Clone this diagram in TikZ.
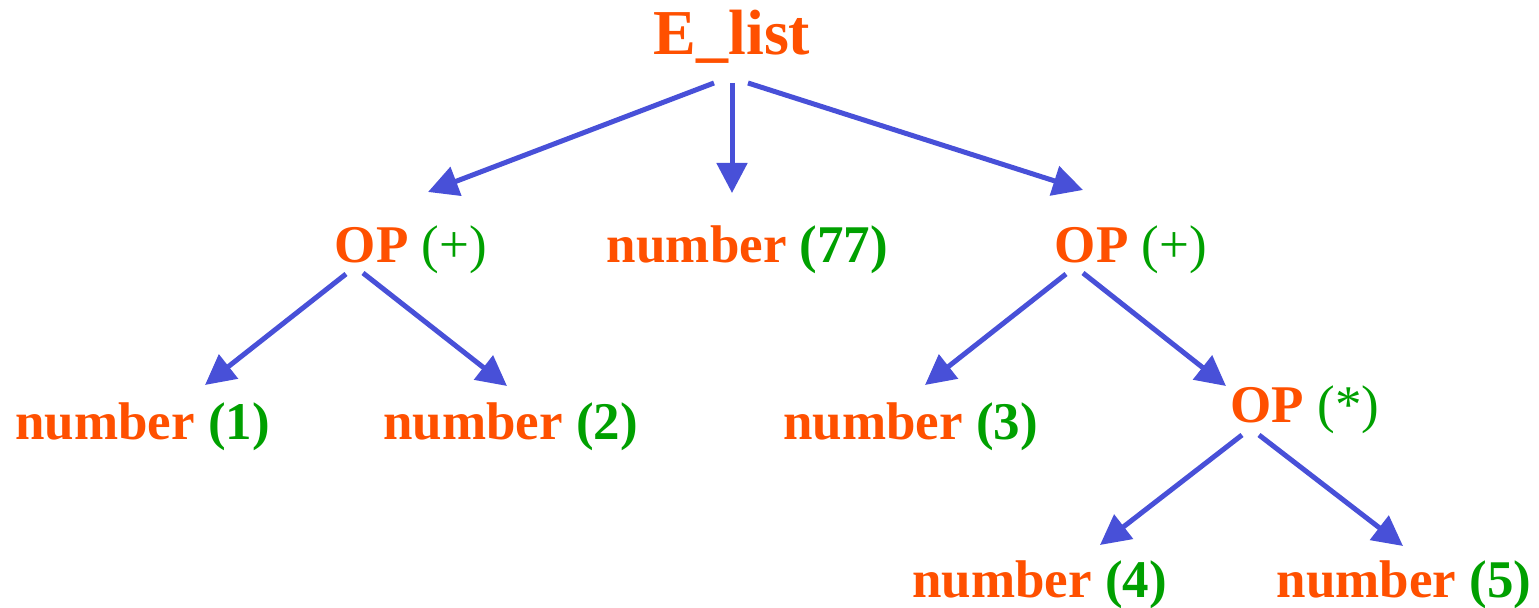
\documentclass[tikz,border=0pt]{standalone}
\usepackage{fontspec}
\setmainfont{Liberation Serif}
\usetikzlibrary{arrows.meta,calc}
\definecolor{termorange}{RGB}{255,80,0}
\definecolor{valgreen}{RGB}{0,160,0}
\definecolor{edgeblue}{RGB}{72,80,216}
\tikzset{
  lbl/.style={anchor=base,inner sep=0pt,font=\fontsize{26.5pt}{30pt}\selectfont\bfseries,text=termorange},
  rootlbl/.style={lbl,font=\fontsize{32pt}{36pt}\selectfont\bfseries},
  edge/.style={draw=edgeblue,line width=2.5pt,-{Triangle[length=15pt,width=15pt]}}
}
\newcommand{\opval}[1]{\textcolor{valgreen}{\mdseries(#1)}}
\newcommand{\numval}[1]{\textcolor{valgreen}{(#1)}}
\begin{document}
\begin{tikzpicture}[x=0.5pt,y=-0.5pt]
  \useasboundingbox (0,0) rectangle (1539,608);
  % tree labels, placed by baseline
  \node[rootlbl] (root) at (732,55) {E\_list};
  \node[lbl] (opl)  at (411,263)    {OP \opval{+}};
  \node[lbl] (n77)  at (747.5,263)  {number \numval{77}};
  \node[lbl] (opr)  at (1131,263)   {OP \opval{+}};
  \node[lbl] (n1)   at (142.5,440)  {number \numval{1}};
  \node[lbl] (n2)   at (510.5,440)  {number \numval{2}};
  \node[lbl] (n3)   at (910.5,440)  {number \numval{3}};
  \node[lbl] (opm)  at (1305,423)   {OP \opval{*}};
  \node[lbl] (n4)   at (1039.5,598) {number \numval{4}};
  \node[lbl] (n5)   at (1404,598)   {number \numval{5}};
  % edges
  \draw[edge] ($(root.base)+(-18,28)$) -- ($(opl.base)+(17,-71)$);
  \draw[edge] ($(root.base)+(0,28)$)   -- ($(n77.base)+(-15.5,-70)$);
  \draw[edge] ($(root.base)+(16,28)$)  -- ($(opr.base)+(-48,-73)$);
  \draw[edge] ($(opl.base)+(-65,11)$)  -- ($(n1.base)+(62.5,-55)$);
  \draw[edge] ($(opl.base)+(-48,10)$)  -- ($(n2.base)+(-3.5,-54)$);
  \draw[edge] ($(opr.base)+(-65,11)$)  -- ($(n3.base)+(14.5,-55)$);
  \draw[edge] ($(opr.base)+(-48,10)$)  -- ($(opm.base)+(-79,-37)$);
  \draw[edge] ($(opm.base)+(-63,12)$)  -- ($(n4.base)+(60.5,-53)$);
  \draw[edge] ($(opm.base)+(-46,12)$)  -- ($(n5.base)+(-1,-52)$);
\end{tikzpicture}
\end{document}
